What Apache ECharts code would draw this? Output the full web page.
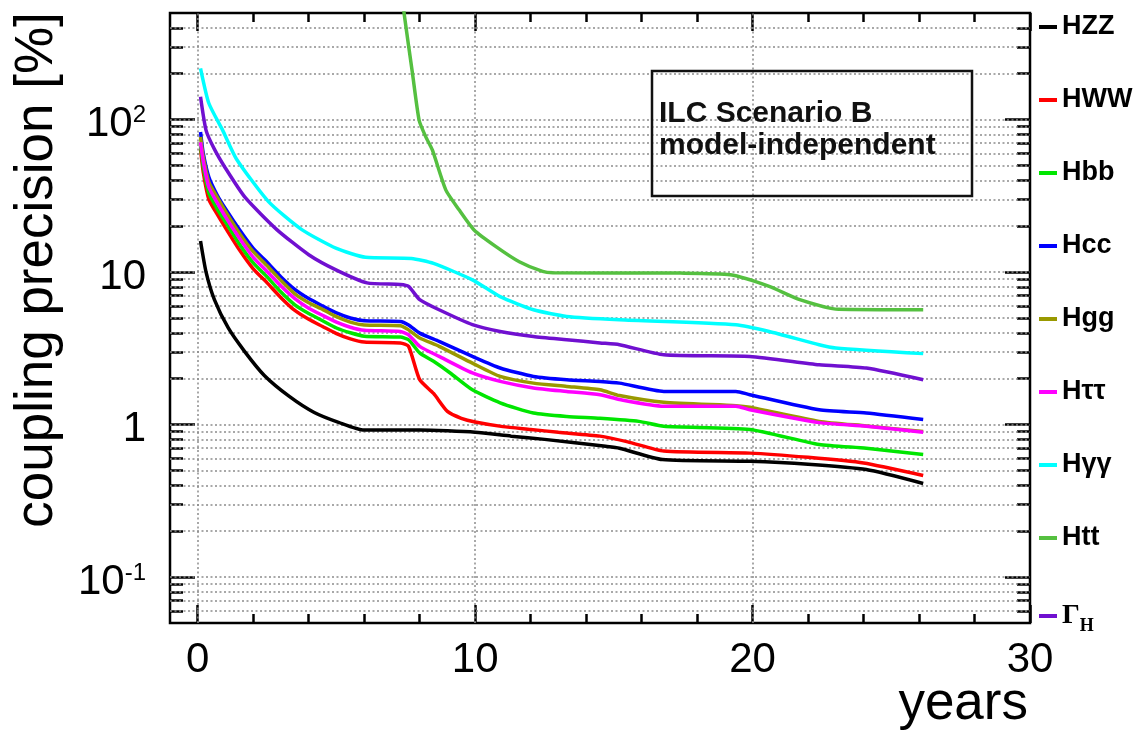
<!DOCTYPE html>
<html><head><meta charset="utf-8">
<script src="https://cdn.jsdelivr.net/npm/echarts@6/dist/echarts.min.js"></script>
<style>html,body{margin:0;padding:0;background:#fff}#c{width:1134px;height:738px}</style>
</head><body><div id="c"></div>
<script>
// ---- data (years, coupling precision %) ----
const seriesNames = ['HZZ','HWW','Hbb','Hcc','Hgg','Hττ','Hγγ','Htt','ΓH'];
const seriesColors = ['#000000','#ff0000','#00e600','#0000ff','#999900','#ff00ff','#00ffff','#55c040','#7010d0'];

const hzz = [[0.1,16],[0.3,10],[0.6,6.6],[1.1,4.3],[1.7,3.0],[2.4,2.1],[3.3,1.53],[4.2,1.2],[5.1,1.03],[6.0,0.92],[8.0,0.92],[9.0,0.91],[10.0,0.89],[11.3,0.84],[12.5,0.80],[14.7,0.72],[15.2,0.70],[16.75,0.59],[19.9,0.575],[22.0,0.55],[24.1,0.507],[26.15,0.411]];
const hww = [[0.1,64],[0.2,45],[0.4,30],[0.7,24],[1.0,19.5],[1.5,14],[2.0,10.5],[2.5,8.5],[3.0,6.8],[3.5,5.6],[4.0,4.9],[4.5,4.4],[5.0,3.95],[5.5,3.65],[6.0,3.48],[7.3,3.43],[7.6,3.26],[8.0,1.97],[8.5,1.6],[9.0,1.22],[9.5,1.1],[10.0,1.04],[11.0,0.97],[12.0,0.93],[13.0,0.89],[14.5,0.84],[15.5,0.77],[16.8,0.67],[19.9,0.65],[22.0,0.61],[24.0,0.56],[26.15,0.464]];
const hbb = [[0.1,67],[0.2,49],[0.4,33],[0.7,26],[1.0,21.3],[1.5,15.3],[2.0,11.5],[2.5,9.3],[3.0,7.4],[3.5,6.1],[4.0,5.35],[4.5,4.8],[5.0,4.3],[5.5,4.0],[6.0,3.8],[7.3,3.75],[7.6,3.6],[8.0,2.95],[8.5,2.6],[9.1,2.18],[9.9,1.69],[10.9,1.39],[12.1,1.19],[13.3,1.13],[14.5,1.1],[15.9,1.05],[16.8,0.975],[19.9,0.93],[22.4,0.74],[24.1,0.70],[26.15,0.636]];
const hcc = [[0.1,83],[0.2,60],[0.4,42],[0.7,32],[1.0,26],[1.5,19],[2.0,14.3],[2.5,11.6],[3.0,9.3],[3.5,7.7],[4.0,6.7],[4.5,6.0],[5.0,5.4],[5.5,5.0],[6.0,4.8],[7.3,4.75],[7.6,4.5],[8.0,3.98],[8.7,3.51],[9.9,2.8],[10.9,2.35],[12.1,2.07],[13.3,1.97],[14.5,1.92],[15.2,1.87],[16.8,1.65],[19.4,1.65],[19.9,1.57],[22.4,1.25],[24.1,1.19],[26.15,1.08]];
const hgg = [[0.1,77],[0.2,57],[0.4,39],[0.7,31],[1.0,25],[1.5,18],[2.0,13.6],[2.5,11],[3.0,8.8],[3.5,7.2],[4.0,6.3],[4.5,5.7],[5.0,5.1],[5.5,4.7],[6.0,4.5],[7.3,4.45],[7.6,4.18],[8.0,3.7],[8.7,3.26],[9.9,2.53],[10.9,2.07],[12.1,1.87],[13.3,1.78],[14.5,1.69],[15.2,1.55],[16.8,1.40],[19.4,1.33],[19.9,1.30],[22.4,1.05],[24.1,0.98],[26.15,0.90]];
const htautau = [[0.1,71],[0.2,53],[0.4,36],[0.7,28.5],[1.0,23],[1.5,16.7],[2.0,12.5],[2.5,10.1],[3.0,8.1],[3.5,6.7],[4.0,5.8],[4.5,5.2],[5.0,4.7],[5.5,4.35],[6.0,4.15],[7.3,4.08],[7.6,3.88],[8.0,3.26],[8.7,2.8],[9.9,2.18],[10.9,1.92],[12.1,1.74],[13.3,1.65],[14.5,1.57],[15.2,1.46],[16.8,1.32],[19.4,1.32],[19.9,1.25],[22.4,1.03],[24.1,0.975],[26.15,0.89]];
const hgamgam = [[0.1,217],[0.4,128],[0.9,85],[1.4,55],[2.55,29],[3.75,19],[5.0,14.3],[6.05,12.5],[7.7,12.3],[8.5,11.4],[9.9,8.9],[10.9,6.9],[12.1,5.66],[13.3,5.12],[15.2,4.87],[19.4,4.52],[20.6,4.08],[22.4,3.34],[23.0,3.18],[26.15,2.92]];
const htt = [[7.35,700],[7.45,480],[7.74,201],[7.98,99],[8.22,77],[8.46,63],[8.94,34.6],[9.42,25.6],[9.96,18.9],[10.75,14.7],[11.59,11.7],[12.43,10.1],[12.8,9.9],[17.4,9.85],[19.2,9.6],[20.6,8.06],[21.7,6.6],[23.1,5.7],[26.15,5.66]];
const gammaH = [[0.1,141],[0.3,85],[0.6,64],[1.0,48],[1.7,31],[2.85,19],[4.0,13],[5.0,10.3],[6.1,8.5],[7.3,8.3],[7.6,8.06],[8.0,6.6],[8.7,5.66],[9.9,4.52],[10.9,4.08],[12.1,3.78],[13.3,3.6],[14.5,3.43],[15.2,3.34],[16.8,2.87],[19.9,2.8],[22.4,2.47],[24.1,2.35],[26.15,1.97]];

const seriesData = [hzz, hww, hbb, hcc, hgg, htautau, hgamgam, htt, gammaH];

// ---- axis ticks ----
const xMajorTicks = [0, 10, 20, 30];
const xMinorTicks = [2, 4, 6, 8, 12, 14, 16, 18, 22, 24, 26, 28];
const xGridLines = [0, 10, 20];
const yMajorTicks = [0.1, 1, 10, 100];
const yMinorTicks = [0.06,0.07,0.08,0.09,0.2,0.3,0.4,0.5,0.6,0.7,0.8,0.9,2,3,4,5,6,7,8,9,20,30,40,50,60,70,80,90,200,300,400];

const FONT = '"Liberation Sans", Arial, Helvetica, sans-serif';
const TICK = {color:'#000', width:2.5};

function xAxisDef(pos, ticks, len, labels) {
  return {
    type:'value', min:-1, max:30, position:pos, gridIndex:0,
    axisLine:{show:false, onZero:false},
    axisTick:{show:true, inside:true, length:len, customValues:ticks, lineStyle:TICK},
    axisLabel: labels ? {show:true, customValues:ticks, fontSize:42, fontFamily:FONT, color:'#000', margin:16} : {show:false},
    splitLine:{show:false}
  };
}
function yAxisDef(pos, ticks, len, labels) {
  return {
    type:'log', logBase:10, min:0.05, max:500, position:pos, gridIndex:0,
    axisLine:{show:false, onZero:false},
    axisTick:{show:true, inside:true, length:len, customValues:ticks, lineStyle:TICK},
    axisLabel: labels ? {
      show:true, customValues:ticks, margin:24, padding:[10,0,0,0],
      formatter: function (v) {
        const e = Math.round(Math.log10(v));
        if (e === 0) return '{b|1}';
        if (e === 1) return '{b|10}';
        return '{b|10}{s|' + e + '}';
      },
      rich:{
        b:{fontSize:42, fontFamily:FONT, color:'#000'},
        s:{fontSize:24, fontFamily:FONT, color:'#000', verticalAlign:'top', lineHeight:22}
      }
    } : {show:false},
    splitLine:{show:false}
  };
}

const gridLineSeries = {
  type:'line', name:'grid', data:[], silent:true, z:1,
  markLine:{
    silent:true, symbol:['none','none'], label:{show:false}, z:1, animation:false,
    lineStyle:{color:'#8c8c8c', type:[2,2.5], width:1.5},
    data: yMajorTicks.concat(yMinorTicks).map(v => ({yAxis:v}))
          .concat(xGridLines.map(v => ({xAxis:v})))
  }
};

const lineSeries = seriesNames.map((n, i) => ({
  type:'line', name:n, data:seriesData[i], xAxisIndex:0, yAxisIndex:0,
  showSymbol:false, symbol:'none', clip:true, z:3,
  smooth:0.2,
  lineStyle:{color:seriesColors[i], width:3.5}, itemStyle:{color:seriesColors[i]}
}));

const option = {
  animation:false,
  backgroundColor:'#ffffff',
  grid:{left:170, top:13, right:104, bottom:115, show:true, borderColor:'#000', borderWidth:2.5, backgroundColor:'transparent'},
  xAxis:[
    xAxisDef('bottom', xMajorTicks, 18, true),
    xAxisDef('bottom', xMinorTicks, 9, false),
    xAxisDef('top', xMajorTicks, 18, false),
    xAxisDef('top', xMinorTicks, 9, false)
  ],
  yAxis:[
    yAxisDef('left', yMajorTicks, 25, true),
    yAxisDef('left', yMinorTicks, 13, false),
    yAxisDef('right', yMajorTicks, 25, false),
    yAxisDef('right', yMinorTicks, 13, false)
  ],
  legend:{
    data:seriesNames, orient:'vertical', left:1034, top:8,
    itemGap:45, itemWidth:18, itemHeight:4, icon:'rect', padding:5,
    selectedMode:false,
    textStyle:{fontSize:27, fontWeight:'bold', fontFamily:FONT, color:'#000', lineHeight:28,
      rich:{
        g:{fontSize:28, fontFamily:'"Liberation Serif", serif', color:'#000', lineHeight:28},
        h:{fontSize:18, fontFamily:'"Liberation Serif", serif', color:'#000', lineHeight:18, padding:[20,0,0,0]}
      }
    },
    formatter: function (name) { return name === 'ΓH' ? '{g|Γ}{h|H}' : name; }
  },
  graphic:[
    {type:'rect', shape:{x:652, y:71, width:320, height:125}, style:{fill:'none', stroke:'#111', lineWidth:2.5}, z:10},
    {type:'text', x:659, y:114, z:10, style:{text:'ILC Scenario B', fontSize:30, fontWeight:'bold', fontFamily:FONT, fill:'#111', verticalAlign:'middle'}},
    {type:'text', x:659, y:146, z:10, style:{text:'model-independent', fontSize:30, fontWeight:'bold', fontFamily:FONT, fill:'#111', verticalAlign:'middle'}},
    {type:'text', x:37, y:270, rotation:Math.PI/2, z:10, style:{text:'coupling precision [%]', fontSize:53, fontFamily:FONT, fill:'#000', align:'center', verticalAlign:'middle'}},
    {type:'text', x:1028, y:704, z:10, style:{text:'years', fontSize:53, fontFamily:FONT, fill:'#000', align:'right', verticalAlign:'middle'}}
  ],
  series:[gridLineSeries].concat(lineSeries)
};

const chart = echarts.init(document.getElementById('c'), null, {renderer:'canvas'});
chart.setOption(option);
</script>
</body></html>
